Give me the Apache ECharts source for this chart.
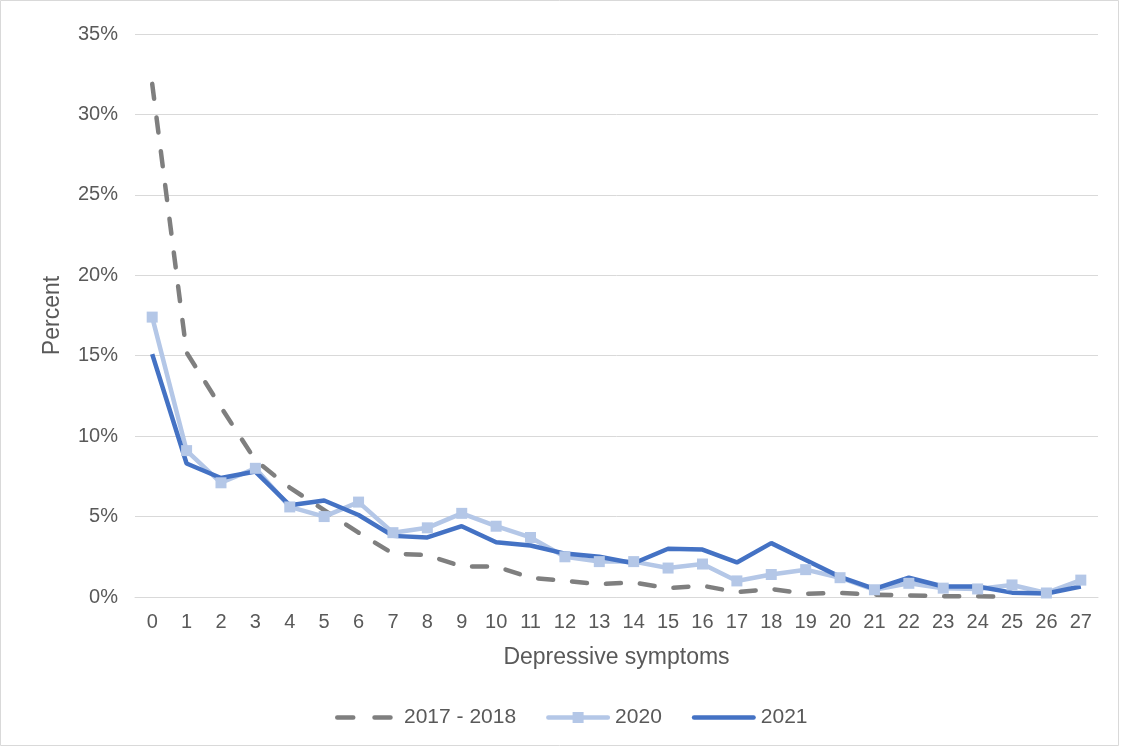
<!DOCTYPE html>
<html><head><meta charset="utf-8">
<script src="https://cdn.jsdelivr.net/npm/echarts@6/dist/echarts.min.js"></script>
<style>html,body{margin:0;padding:0;background:#fff}#c{width:1126px;height:749px}</style>
</head><body><div id="c"></div>
<script>
const categories = ['0','1','2','3','4','5','6','7','8','9','10','11','12','13','14','15','16','17','18','19','20','21','22','23','24','25','26','27'];
const s2017 = [31.9,15.2,11.8,8.5,6.8,5.4,4.0,2.7,2.6,1.9,1.9,1.2,1.0,0.8,0.9,0.55,0.7,0.3,0.5,0.2,0.25,0.15,0.1,0.05,0.05,0.0,null,null];
const s2020 = [17.4,9.1,7.1,8.0,5.6,5.0,5.9,4.0,4.3,5.2,4.4,3.7,2.5,2.2,2.2,1.8,2.05,1.0,1.4,1.7,1.2,0.45,0.85,0.55,0.5,0.75,0.25,1.05];
const s2021 = [15.1,8.3,7.4,7.8,5.7,6.0,5.1,3.8,3.7,4.4,3.4,3.2,2.7,2.5,2.1,3.0,2.95,2.15,3.35,2.3,1.25,0.5,1.2,0.65,0.65,0.27,0.22,0.65];
const yTicks = [0,5,10,15,20,25,30,35];

const font = 'Liberation Sans, Arial, sans-serif';
// legend icon shapes (64 x 12 box)
const iconDash = 'path://M0,0 M64,12 M2.25,3.75 h16 a2.25,2.25 0 0 1 0,4.5 h-16 a2.25,2.25 0 0 1 0,-4.5z M39.5,3.75 h16 a2.25,2.25 0 0 1 0,4.5 h-16 a2.25,2.25 0 0 1 0,-4.5z';
const iconSq = 'path://M0,0 M64,12 M2.25,3.75 h59.5 a2.25,2.25 0 0 1 0,4.5 h-59.5 a2.25,2.25 0 0 1 0,-4.5z M26.5,0.5 h11 v11 h-11z';
const iconLine = 'path://M0,0 M64,12 M2.25,3.75 h59.5 a2.25,2.25 0 0 1 0,4.5 h-59.5 a2.25,2.25 0 0 1 0,-4.5z';

const chart = echarts.init(document.getElementById('c'), null, {renderer:'canvas'});
chart.setOption({
  backgroundColor:'#fff',
  animation:false,
  graphic:[{type:'rect',shape:{x:0.5,y:0.5,width:1118,height:745},style:{fill:'none',stroke:'#d9d9d9',lineWidth:1}}],
  grid:{left:135,right:28,top:34,bottom:152},
  legend:{bottom:16,left:330,itemWidth:64,itemHeight:12,itemGap:30,
    textStyle:{fontFamily:font,fontSize:21,color:'#595959'},
    data:[
      {name:'2017 - 2018',icon:iconDash},
      {name:'2020',icon:iconSq},
      {name:'2021',icon:iconLine}]},
  xAxis:{type:'category',data:categories,boundaryGap:true,
    name:'Depressive symptoms',nameLocation:'middle',nameGap:49,
    nameTextStyle:{fontFamily:font,fontSize:23,color:'#595959'},
    axisLine:{lineStyle:{color:'#d9d9d9'}},axisTick:{show:false},
    axisLabel:{fontFamily:font,fontSize:20,color:'#595959',margin:15,interval:0}},
  yAxis:{type:'value',min:0,max:35,interval:5,
    name:'Percent',nameLocation:'middle',nameGap:71,
    nameTextStyle:{fontFamily:font,fontSize:23,color:'#595959'},
    axisLine:{show:false},axisTick:{show:false},
    splitLine:{lineStyle:{color:'#d9d9d9',width:1}},
    axisLabel:{fontFamily:font,fontSize:20,color:'#595959',margin:17,formatter:v=>v+'%'}},
  series:[
    {name:'2017 - 2018',type:'line',data:s2017,showSymbol:false,symbol:'none',
      lineStyle:{color:'#7f7f7f',width:4.5,type:[15,19],cap:'round'},itemStyle:{color:'#7f7f7f'}},
    {name:'2020',type:'line',data:s2020,symbol:'rect',symbolSize:11,
      lineStyle:{color:'#b4c7e7',width:4.5},itemStyle:{color:'#b4c7e7'}},
    {name:'2021',type:'line',data:s2021,showSymbol:false,symbol:'none',
      lineStyle:{color:'#4472c4',width:4.5},itemStyle:{color:'#4472c4'}}
  ]
});
</script></body></html>
